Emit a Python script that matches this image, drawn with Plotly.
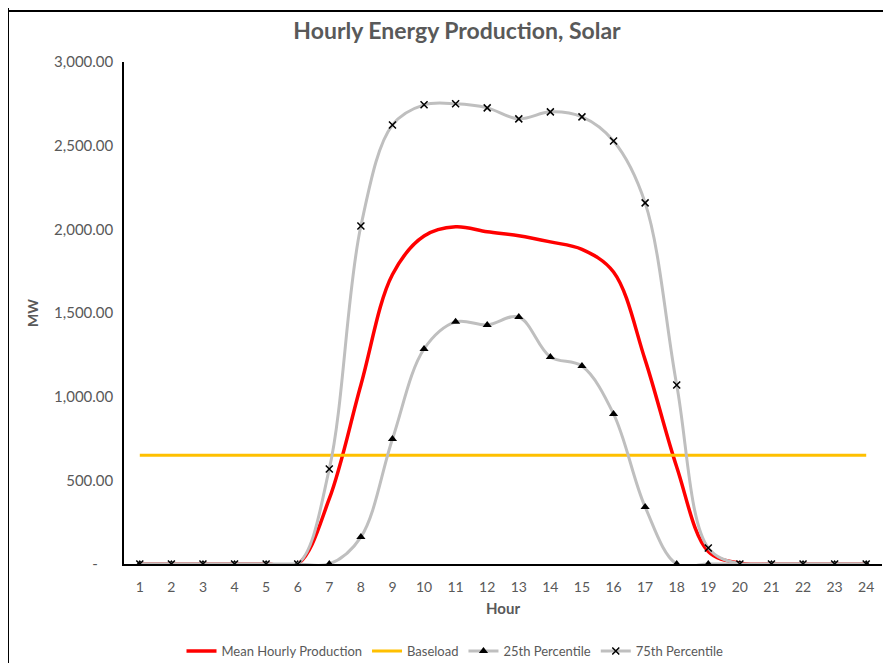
import plotly.graph_objects as go

hours = list(range(1, 25))
mean_prod = [0, 0, 0, 0, 0, 0, 390, 1070, 1730, 1960, 2015, 1985, 1962, 1925, 1880, 1745,
             1220, 580, 75, 5, 0, 0, 0, 0]
baseload = [650] * 24
p25 = [0, 0, 0, 0, 0, 0, 0, 161, 747, 1285, 1447, 1429, 1476, 1237, 1183, 897,
       341, 0, 0, 0, 0, 0, 0, 0]
p75 = [0, 0, 0, 0, 0, 0, 568, 2020, 2624, 2744, 2750, 2726, 2660, 2702, 2672, 2528,
       2158, 1070, 96, 0, 0, 0, 0, 0]

y_ticks = [0, 500, 1000, 1500, 2000, 2500, 3000]
y_text = ['-\u00a0\u00a0\u00a0\u00a0', '500.00', '1,000.00', '1,500.00', '2,000.00', '2,500.00', '3,000.00']

font_family = 'Lato, sans-serif'
grey_txt = '#595959'

# page body has an 8px margin, so the figure is sized/offset to line up with the reference
fig = go.Figure()
fig.add_scatter(
    x=hours, y=mean_prod, name='Mean Hourly Production', mode='lines',
    line=dict(color='#FF0000', width=3.5, shape='spline', smoothing=1)
)
fig.add_scatter(
    x=hours, y=baseload, name='Baseload', mode='lines',
    line=dict(color='#FFC000', width=3)
)
fig.add_scatter(
    x=hours, y=p25, name='25th Percentile', mode='lines+markers',
    line=dict(color='#BFBFBF', width=3, shape='spline', smoothing=1),
    marker=dict(symbol='triangle-up', color='black', size=8)
)
fig.add_scatter(
    x=hours, y=p75, name='75th Percentile', mode='lines+markers',
    line=dict(color='#BFBFBF', width=3, shape='spline', smoothing=1),
    marker=dict(symbol='x-thin', size=7, line=dict(color='black', width=1.5))
)

fig.update_layout(
    width=875, height=655,
    paper_bgcolor='white', plot_bgcolor='white',
    margin=dict(l=116, r=1, t=54, b=99, autoexpand=False),
    title=dict(text='<b>Hourly Energy Production, Solar</b>', x=(457 - 8) / 875, xanchor='center',
               y=1 - (23 / 655), yanchor='middle',
               font=dict(family=font_family, size=23, color=grey_txt)),
    font=dict(family=font_family, size=13, color=grey_txt),
    xaxis=dict(
        range=[0.5, 24.5], tickvals=hours, showgrid=False, zeroline=False,
        showline=True, linecolor='black', linewidth=1.5, ticks='', ticklabelstandoff=9,
        title=dict(text='<b>Hour</b>', font=dict(size=15, color=grey_txt), standoff=10),
        tickfont=dict(size=14, color=grey_txt)
    ),
    yaxis=dict(
        range=[0, 3000], tickvals=y_ticks, ticktext=y_text, showgrid=False, zeroline=False,
        showline=True, linecolor='black', linewidth=1.5, ticks='', ticklabelstandoff=6,
        title=dict(text='<b>MW</b>', font=dict(size=14, color=grey_txt), standoff=12),
        tickfont=dict(size=15, color=grey_txt)
    ),
    legend=dict(orientation='h', x=(455 - 124) / 758, xanchor='center',
                yref='container', y=1 - (643 / 655), yanchor='middle',
                font=dict(size=13, color=grey_txt), traceorder='normal'),
    shapes=[
        dict(type='line', xref='paper', yref='paper', x0=-116 / 758, x1=-116 / 758,
             y0=-99 / 502, y1=556 / 502, line=dict(color='black', width=2)),
        dict(type='line', xref='paper', yref='paper', x0=-116 / 758, x1=760 / 758,
             y0=553 / 502, y1=553 / 502, line=dict(color='black', width=2)),
    ]
)

fig.write_html("out.html")
